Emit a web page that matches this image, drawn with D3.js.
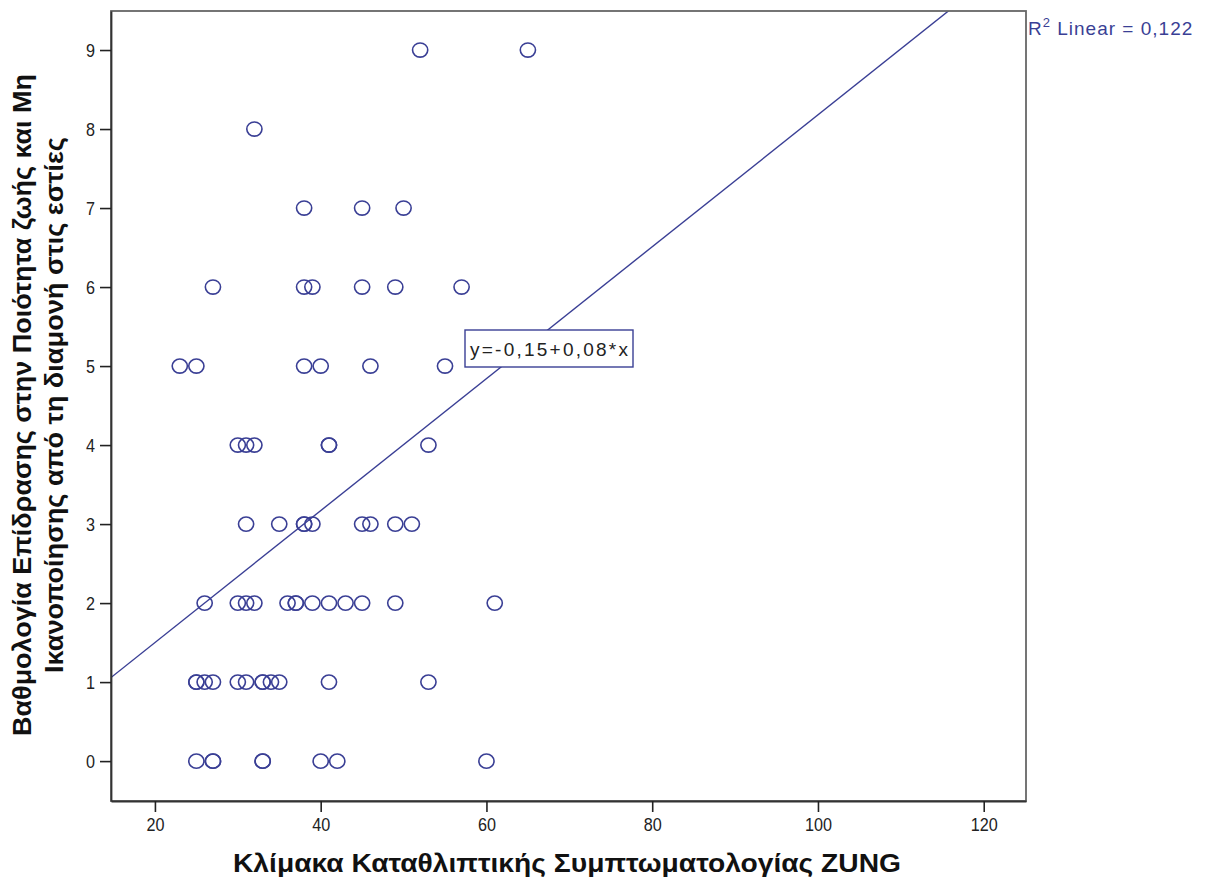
<!DOCTYPE html>
<html>
<head>
<meta charset="utf-8">
<script src="https://cdn.jsdelivr.net/npm/d3@7/dist/d3.min.js"></script>
<style>
  html, body { margin: 0; padding: 0; background: #fff; }
  svg { display: block; }
</style>
</head>
<body>
<svg id="chart" width="1207" height="885"></svg>
<script>
// ---- data ----
const zungScores = [
  52, 65,
  32,
  38, 45, 50,
  27, 38, 39, 45, 49, 57,
  23, 25, 38, 40, 46, 55,
  30, 31, 32, 41, 41, 53,
  31, 35, 38, 38, 39, 45, 46, 49, 51,
  26, 30, 31, 32, 36, 37, 37, 39, 41, 43, 45, 49, 61,
  25, 25, 26, 27, 30, 31, 33, 33, 34, 35, 41, 53,
  25, 27, 27, 33, 33, 40, 42, 60
];
const impactScores = [
  9, 9,
  8,
  7, 7, 7,
  6, 6, 6, 6, 6, 6,
  5, 5, 5, 5, 5, 5,
  4, 4, 4, 4, 4, 4,
  3, 3, 3, 3, 3, 3, 3, 3, 3,
  2, 2, 2, 2, 2, 2, 2, 2, 2, 2, 2, 2, 2,
  1, 1, 1, 1, 1, 1, 1, 1, 1, 1, 1, 1,
  0, 0, 0, 0, 0, 0, 0, 0
];
const xTicks = [20, 40, 60, 80, 100, 120];
const yTicks = [0, 1, 2, 3, 4, 5, 6, 7, 8, 9];
const xDomain = [14.7, 125.1];
const yDomain = [-0.505, 9.494];
const fitIntercept = -0.17;
const fitSlope = 0.0835;
const equationLabel = "y=-0,15+0,08*x";
const r2Label = "Linear = 0,122";
const xTitle = "Κλίμακα Καταθλιπτικής Συμπτωματολογίας ZUNG";
const yTitleLines = ["Βαθμολογία Επίδρασης στην Ποιότητα ζωής και Μη",
                     "Ικανοποίησης από τη διαμονή στις εστίες"];

// ---- layout ----
const plot = { left: 111, top: 11, right: 1026, bottom: 801 };
const markColor = "#3a3f95";
const sans = "'Liberation Sans', Arial, sans-serif";

const svg = d3.select("#chart");
const x = d3.scaleLinear().domain(xDomain).range([plot.left, plot.right]);
const y = d3.scaleLinear().domain(yDomain).range([plot.bottom, plot.top]);

svg.append("defs").append("clipPath").attr("id", "plotclip")
  .append("rect").attr("x", plot.left).attr("y", plot.top)
  .attr("width", plot.right - plot.left).attr("height", plot.bottom - plot.top);

// fit line
const g = svg.append("g").attr("clip-path", "url(#plotclip)");
g.append("line")
  .attr("x1", x(xDomain[0])).attr("y1", y(fitIntercept + fitSlope * xDomain[0]))
  .attr("x2", x(xDomain[1])).attr("y2", y(fitIntercept + fitSlope * xDomain[1]))
  .attr("stroke", markColor).attr("stroke-width", 1.4);

// points
g.selectAll("ellipse.pt").data(zungScores.map((v, i) => [v, impactScores[i]]))
  .enter().append("ellipse").attr("class", "pt")
  .attr("cx", d => x(d[0])).attr("cy", d => y(d[1]))
  .attr("rx", 7.6).attr("ry", 7.1)
  .attr("fill", "none").attr("stroke", markColor).attr("stroke-width", 1.6);

// frame
svg.append("rect").attr("x", plot.left).attr("y", plot.top)
  .attr("width", plot.right - plot.left).attr("height", plot.bottom - plot.top)
  .attr("fill", "none").attr("stroke", "#666").attr("stroke-width", 1.8);

// axes
const xAxis = svg.append("g").attr("transform", `translate(0,${plot.bottom})`)
  .call(d3.axisBottom(x).tickValues(xTicks).tickSize(11).tickSizeOuter(0).tickPadding(6));
const yAxis = svg.append("g").attr("transform", `translate(${plot.left},0)`)
  .call(d3.axisLeft(y).tickValues(yTicks).tickSize(11).tickSizeOuter(0).tickPadding(5));
[xAxis, yAxis].forEach(ax => {
  ax.select(".domain").attr("stroke", "#333").attr("stroke-width", 1.8);
  ax.selectAll(".tick line").attr("stroke", "#222").attr("stroke-width", 1.6);
  ax.selectAll(".tick text").attr("fill", "#222")
    .style("font-family", sans).style("font-size", "19px")
    .attr("lengthAdjust", "spacingAndGlyphs")
    .attr("textLength", function () { return this.textContent.length * 9; });
});

// equation box
const eqX = 465, eqY = 330;
const eqG = svg.append("g");
eqG.append("rect").attr("x", eqX).attr("y", eqY)
  .attr("width", 168).attr("height", 37)
  .attr("fill", "#fff").attr("stroke", markColor).attr("stroke-width", 1.4);
eqG.append("text").attr("x", eqX + 5).attr("y", eqY + 26)
  .attr("fill", "#222").style("font-family", sans).style("font-size", "19px")
  .attr("textLength", 158).attr("lengthAdjust", "spacing")
  .text(equationLabel);

// R2 label
const r2 = svg.append("text").attr("x", 1028).attr("y", 35)
  .attr("fill", markColor).style("font-family", sans).style("font-size", "19px")
  .style("letter-spacing", "1px");
r2.append("tspan").text("R");
r2.append("tspan").attr("dy", -8).style("font-size", "13px").text("2");
r2.append("tspan").attr("dy", 8).text(" " + r2Label);

// axis titles
svg.append("text").attr("x", 567).attr("y", 872).attr("text-anchor", "middle")
  .attr("fill", "#111").style("font-family", sans).style("font-size", "25px")
  .style("font-weight", "bold")
  .attr("textLength", 668).attr("lengthAdjust", "spacingAndGlyphs")
  .text(xTitle);

const yt = svg.append("g").attr("transform", "translate(0,405) rotate(-90)");
yt.append("text").attr("x", 0).attr("y", 31).attr("text-anchor", "middle")
  .attr("fill", "#111").style("font-family", sans).style("font-size", "25px")
  .style("font-weight", "bold")
  .attr("textLength", 662).attr("lengthAdjust", "spacingAndGlyphs")
  .text(yTitleLines[0]);
yt.append("text").attr("x", 0).attr("y", 63).attr("text-anchor", "middle")
  .attr("fill", "#111").style("font-family", sans).style("font-size", "25px")
  .style("font-weight", "bold")
  .attr("textLength", 536).attr("lengthAdjust", "spacingAndGlyphs")
  .text(yTitleLines[1]);
</script>
</body>
</html>
